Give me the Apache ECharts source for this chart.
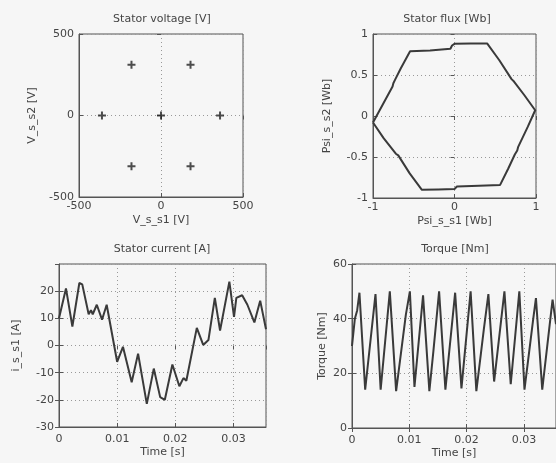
<!DOCTYPE html>
<html>
<head>
<meta charset="utf-8">
<script src="https://cdn.jsdelivr.net/npm/echarts@6/dist/echarts.min.js"></script>
<style>
html,body{margin:0;padding:0;background:#f6f6f6;}
#c{width:556px;height:463px;}
</style>
</head>
<body>
<div id="c"></div>
<script>
// ---- Data ----
var titles = ['Stator voltage [V]', 'Stator flux [Wb]', 'Stator current [A]', 'Torque [Nm]'];
var xNames = ['V_s_s1 [V]', 'Psi_s_s1 [Wb]', 'Time [s]', 'Time [s]'];
var yNames = ['V_s_s2 [V]', 'Psi_s_s2 [Wb]', 'i_s_s1 [A]', 'Torque [Nm]'];

var voltS1 = [0, 360, 180, -180, -360, -180, 180];
var voltS2 = [0, 0, 312, 312, 0, -312, -312];

var fluxS1 = [-1.0, -0.88, -0.76, -0.75, -0.73, -0.66, -0.545, -0.30, -0.05, -0.03, 0.0, 0.20, 0.40, 0.55, 0.68, 0.70, 0.73, 0.86, 0.99, 0.90, 0.78, 0.77, 0.74, 0.66, 0.56, 0.30, 0.03, 0.0, -0.20, -0.40, -0.55, -0.69, -0.72, -0.74, -0.87, -1.0];
var fluxS2 = [-0.08, 0.14, 0.36, 0.40, 0.44, 0.58, 0.79, 0.80, 0.82, 0.86, 0.88, 0.885, 0.885, 0.68, 0.48, 0.45, 0.42, 0.25, 0.07, -0.13, -0.38, -0.42, -0.47, -0.64, -0.84, -0.85, -0.86, -0.89, -0.895, -0.90, -0.70, -0.48, -0.46, -0.45, -0.27, -0.08];

var currT = [0, 0.0012, 0.0023, 0.0035, 0.0040, 0.0051, 0.0055, 0.0058, 0.0065, 0.0074, 0.0082, 0.0100, 0.0110, 0.0125, 0.0136, 0.0151, 0.0163, 0.0174, 0.0182, 0.0195, 0.0207, 0.0214, 0.0219, 0.0237, 0.0248, 0.0257, 0.0268, 0.0277, 0.0293, 0.0301, 0.0305, 0.0315, 0.0324, 0.0336, 0.0346, 0.0356];
var currI = [10, 21, 7, 23, 22.5, 11.5, 13, 11.5, 15, 9.5, 15, -6, -0.5, -13.5, -3, -21.5, -8.5, -19, -20, -7, -15, -12, -13, 6.5, 0.2, 2, 17.5, 5.5, 23.5, 10.5, 17.5, 18.5, 15, 8.5, 16.5, 6];

var torqT = [0, 0.0005, 0.0009, 0.0013, 0.0023, 0.0041, 0.0050, 0.0066, 0.0077, 0.0094, 0.0101, 0.0109, 0.0124, 0.0135, 0.0142, 0.0152, 0.0163, 0.0180, 0.0191, 0.0207, 0.0217, 0.0230, 0.0238, 0.0248, 0.0266, 0.0277, 0.0292, 0.0301, 0.0316, 0.0321, 0.0332, 0.0350, 0.0356];
var torqV = [30, 40, 43, 49.5, 14, 49, 14, 50, 13.5, 41.5, 50, 15, 48.5, 13.5, 28, 50, 14, 49.5, 14.5, 50, 13.5, 36, 49, 17, 50, 16, 50, 14, 39.5, 47.5, 14, 47, 38];

// ---- Build ----
function pairs(a, b) { return a.map(function (v, i) { return [v, b[i]]; }); }

var FONT = '"DejaVu Sans", sans-serif';
var TXT = '#444';
var FRAME = '#555';
var LINE = '#3a3a3a';
var gridDef = [
  {left: 79, top: 34, width: 164, height: 163},
  {left: 373, top: 34, width: 163, height: 164},
  {left: 59, top: 264, width: 207, height: 163},
  {left: 352, top: 264, width: 208, height: 164}
];
var titleX = [162, 447, 162, 455];
var titleY = [14, 14, 244, 244];
var xGap = [18, 18, 20, 20];
var yGap = [41, 40, 37, 24];
var xRange = [[-500, 500, 500], [-1, 1, 1], [0, 0.0356, 0.01], [0, 0.0356, 0.01]];
var yRange = [[-500, 500, 500], [-1, 1, 0.5], [-30, 30, 10], [0, 60, 20]];
var labelStyle = {color: TXT, fontSize: 11, fontFamily: FONT};

function mainAxis(gi, isX) {
  var r = isX ? xRange[gi] : yRange[gi];
  var hideMax = isX ? gi >= 2 : gi === 2;
  return {
    gridIndex: gi, type: 'value', min: r[0], max: r[1], interval: r[2],
    name: isX ? xNames[gi] : yNames[gi],
    nameLocation: 'middle',
    nameGap: isX ? xGap[gi] : yGap[gi],
    nameTextStyle: labelStyle,
    axisLine: {show: true, onZero: false, lineStyle: {color: FRAME, width: 1}},
    axisTick: {show: true, inside: true, length: 4, lineStyle: {color: FRAME}},
    axisLabel: {color: TXT, fontSize: 11, fontFamily: FONT, margin: isX ? (gi >= 2 ? 7 : 4) : 5,
      showMaxLabel: !hideMax},
    splitLine: {show: true, lineStyle: {color: '#999', type: [1, 3], width: 1}}
  };
}
function mirrorAxis(gi, isX) {
  var r = isX ? xRange[gi] : yRange[gi];
  return {
    gridIndex: gi, type: 'value', min: r[0], max: r[1], interval: r[2],
    position: isX ? 'top' : 'right',
    axisLine: {show: false},
    axisTick: {show: true, inside: true, length: 4, lineStyle: {color: FRAME}},
    axisLabel: {show: false},
    splitLine: {show: false}
  };
}

var xAxes = [], yAxes = [];
for (var i = 0; i < 4; i++) { xAxes.push(mainAxis(i, true)); yAxes.push(mainAxis(i, false)); }
for (var j = 0; j < 4; j++) { xAxes.push(mirrorAxis(j, true)); yAxes.push(mirrorAxis(j, false)); }

var option = {
  backgroundColor: '#f6f6f6',
  animation: false,
  title: titles.map(function (t, i) {
    return {text: t, left: titleX[i], top: titleY[i], textAlign: 'center', padding: 0,
      textStyle: {color: TXT, fontSize: 11, fontWeight: 'normal', fontFamily: FONT}};
  }),
  grid: gridDef.map(function (g) {
    return {left: g.left, top: g.top, width: g.width, height: g.height,
      show: true, borderColor: FRAME, borderWidth: 1, backgroundColor: 'transparent', containLabel: false};
  }),
  xAxis: xAxes,
  yAxis: yAxes,
  series: [
    {type: 'scatter', xAxisIndex: 0, yAxisIndex: 0, data: pairs(voltS1, voltS2),
      symbol: 'path://M3,0H5V3H8V5H5V8H3V5H0V3H3Z', symbolSize: 8,
      itemStyle: {color: '#222'}},
    {type: 'line', xAxisIndex: 1, yAxisIndex: 1, data: pairs(fluxS1, fluxS2),
      showSymbol: false, lineStyle: {color: LINE, width: 2}},
    {type: 'line', xAxisIndex: 2, yAxisIndex: 2, data: pairs(currT, currI),
      showSymbol: false, lineStyle: {color: LINE, width: 2}},
    {type: 'line', xAxisIndex: 3, yAxisIndex: 3, data: pairs(torqT, torqV),
      showSymbol: false, lineStyle: {color: LINE, width: 2}}
  ]
};
var chart = echarts.init(document.getElementById('c'), null, {renderer: 'canvas'});
chart.setOption(option);
</script>
</body>
</html>
